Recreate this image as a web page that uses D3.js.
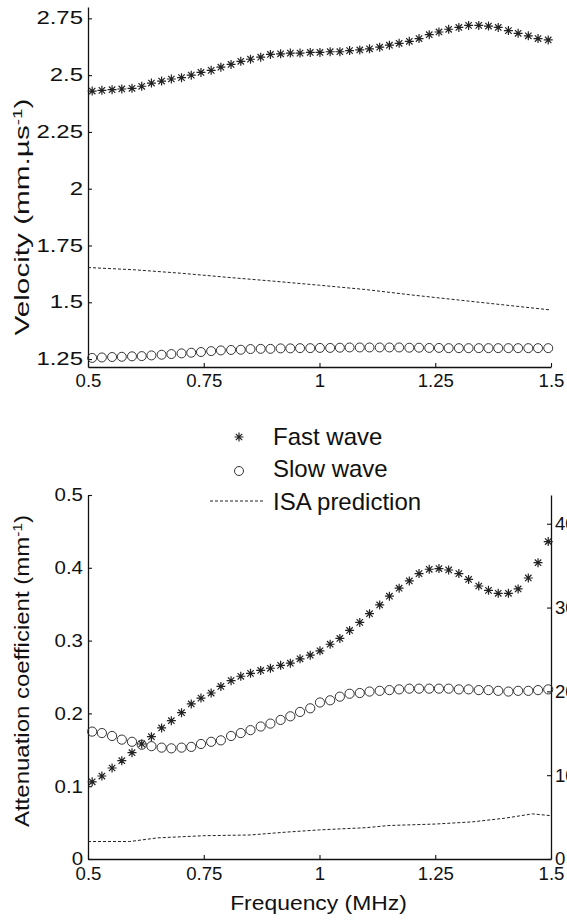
<!DOCTYPE html>
<html>
<head>
<meta charset="utf-8">
<script src="https://cdn.jsdelivr.net/npm/d3@7"></script>
<style>
  html, body { margin: 0; padding: 0; background: #fff; }
  svg { display: block; }
  text { font-family: "Liberation Sans", Arial, sans-serif; fill: #111; }
</style>
</head>
<body>
<svg id="chart" width="567" height="923"></svg>
<script>
// ---------- DATA ----------
const freq = [0.509, 0.530, 0.552, 0.573, 0.595, 0.616, 0.637, 0.659, 0.680, 0.702,
              0.723, 0.744, 0.766, 0.787, 0.809, 0.830, 0.851, 0.873, 0.894, 0.916,
              0.937, 0.958, 0.980, 1.001, 1.023, 1.044, 1.065, 1.087, 1.108, 1.130,
              1.151, 1.172, 1.194, 1.215, 1.237, 1.258, 1.279, 1.301, 1.322, 1.344,
              1.365, 1.386, 1.408, 1.429, 1.451, 1.472, 1.494];

const fastVelocity = [2.430, 2.433, 2.436, 2.439, 2.442, 2.451, 2.465, 2.474, 2.483, 2.489,
                      2.500, 2.512, 2.521, 2.535, 2.547, 2.561, 2.570, 2.579, 2.591, 2.594,
                      2.597, 2.597, 2.600, 2.600, 2.603, 2.603, 2.608, 2.611, 2.616, 2.623,
                      2.632, 2.640, 2.649, 2.661, 2.678, 2.690, 2.702, 2.710, 2.719, 2.719,
                      2.716, 2.710, 2.696, 2.684, 2.673, 2.661, 2.655];

const slowVelocity = [1.255, 1.257, 1.259, 1.260, 1.262, 1.263, 1.266, 1.269, 1.272, 1.275,
                      1.278, 1.281, 1.285, 1.288, 1.290, 1.291, 1.294, 1.295, 1.295, 1.297,
                      1.297, 1.298, 1.298, 1.299, 1.299, 1.300, 1.301, 1.301, 1.301, 1.301,
                      1.301, 1.301, 1.300, 1.300, 1.299, 1.299, 1.298, 1.298, 1.298, 1.298,
                      1.298, 1.298, 1.298, 1.298, 1.298, 1.298, 1.298];

const isaVelFreq = [0.5, 0.6, 0.7, 0.8, 0.9, 1.0, 1.1, 1.2, 1.3, 1.4, 1.5];
const isaVelocity = [1.653, 1.643, 1.628, 1.610, 1.593, 1.575, 1.556, 1.532, 1.510, 1.488, 1.466];

const fastAtten = [0.106, 0.114, 0.125, 0.135, 0.146, 0.158, 0.168, 0.180, 0.190, 0.201,
                   0.213, 0.221, 0.228, 0.237, 0.245, 0.251, 0.255, 0.259, 0.262, 0.266,
                   0.269, 0.275, 0.280, 0.286, 0.295, 0.303, 0.314, 0.325, 0.337, 0.349,
                   0.361, 0.372, 0.382, 0.392, 0.398, 0.399, 0.397, 0.392, 0.384, 0.375,
                   0.369, 0.365, 0.365, 0.371, 0.386, 0.407, 0.436];

const slowAtten = [0.175, 0.173, 0.169, 0.164, 0.161, 0.157, 0.155, 0.153, 0.152, 0.153,
                   0.154, 0.158, 0.161, 0.163, 0.169, 0.173, 0.177, 0.182, 0.186, 0.191,
                   0.196, 0.202, 0.207, 0.215, 0.218, 0.223, 0.227, 0.228, 0.230, 0.231,
                   0.232, 0.233, 0.234, 0.234, 0.234, 0.234, 0.234, 0.233, 0.233, 0.232,
                   0.232, 0.231, 0.230, 0.231, 0.231, 0.232, 0.233];

const isaAttFreq = [0.5, 0.59, 0.65, 0.75, 0.85, 0.93, 1.0, 1.1, 1.15, 1.25, 1.33, 1.4, 1.46, 1.5];
const isaAtten = [0.024, 0.024, 0.029, 0.032, 0.033, 0.037, 0.040, 0.043, 0.046, 0.048, 0.051, 0.056, 0.062, 0.0595];

const freqTicks = [0.5, 0.75, 1, 1.25, 1.5];
const freqTickLabels = ["0.5", "0.75", "1", "1.25", "1.5"];
const velTicks = [1.25, 1.5, 1.75, 2, 2.25, 2.5, 2.75];
const velTickLabels = ["1.25", "1.5", "1.75", "2", "2.25", "2.5", "2.75"];
const attTicks = [0, 0.1, 0.2, 0.3, 0.4, 0.5];
const attTickLabels = ["0", "0.1", "0.2", "0.3", "0.4", "0.5"];
const dbTicks = [0, 10, 20, 30, 40];
const dbTickLabels = ["0", "10", "20", "30", "40"];

const seriesNames = ["Fast wave", "Slow wave", "ISA prediction"];

// ---------- DRAW ----------
const svg = d3.select("#chart");
svg.append("rect").attr("width", 567).attr("height", 923).attr("fill", "#fff");

const X0 = 88, X1 = 551;
const x = d3.scaleLinear().domain([0.5, 1.5]).range([X0, X1]);

const yTop = d3.scaleLinear().domain([1.215, 2.8]).range([367, 7]);
const yBot = d3.scaleLinear().domain([0, 0.5]).range([859, 495]);
const yDb  = d3.scaleLinear().domain([0, 43.43]).range([859, 495]);

const starPath = "M-4.5,0H4.5M0,-4.5V4.5M-3.2,-3.2L3.2,3.2M-3.2,3.2L3.2,-3.2";

function styleAxis(g) {
  g.select(".domain").attr("stroke", "#111").attr("stroke-width", 1.3);
  g.selectAll(".tick line").attr("stroke", "#111").attr("stroke-width", 1.1);
  g.selectAll(".tick text").attr("fill", "#111").attr("font-family", "Liberation Sans, Arial, sans-serif");
}

function xAxis(yPos, pad) {
  const g = svg.append("g").attr("transform", `translate(0,${yPos})`)
    .call(d3.axisBottom(x).tickValues(freqTicks)
      .tickFormat((d, i) => freqTickLabels[i])
      .tickSizeInner(-4).tickSizeOuter(0).tickPadding(pad));
  styleAxis(g);
  g.selectAll(".tick text").attr("font-size", 18.6);
  return g;
}

function yAxisLeft(scale, ticks, labels, fs, sx) {
  const g = svg.append("g").attr("transform", `translate(${X0},0)`)
    .call(d3.axisLeft(scale).tickValues(ticks)
      .tickFormat((d, i) => labels[i])
      .tickSizeInner(-4).tickSizeOuter(0).tickPadding(5));
  styleAxis(g);
  g.selectAll(".tick text").attr("font-size", fs)
    .attr("x", -5 / sx).attr("transform", `scale(${sx},1)`);
  return g;
}

// ----- Top chart: velocity -----
xAxis(367, 7);
yAxisLeft(yTop, velTicks, velTickLabels, 17.5, 1.37);

const isaLineTop = d3.line().x((d, i) => x(isaVelFreq[i])).y(d => yTop(d));
svg.append("path").datum(isaVelocity).attr("d", isaLineTop)
  .attr("fill", "none").attr("stroke", "#222").attr("stroke-width", 1)
  .attr("stroke-dasharray", "3,2");

svg.append("g").selectAll("circle").data(slowVelocity).join("circle")
  .attr("cx", (d, i) => x(freq[i])).attr("cy", d => yTop(d)).attr("r", 4.5)
  .attr("fill", "none").attr("stroke", "#333").attr("stroke-width", 1);

svg.append("g").selectAll("path").data(fastVelocity).join("path")
  .attr("transform", (d, i) => `translate(${x(freq[i])},${yTop(d)})`)
  .attr("d", starPath).attr("fill", "none").attr("stroke", "#222").attr("stroke-width", 1.2);

// Top y label
const velLabel = svg.append("text")
  .attr("transform", "translate(29,217) rotate(-90) scale(1.45,1)")
  .attr("text-anchor", "middle").attr("font-size", 20.5);
velLabel.append("tspan").text("Velocity (mm.\u00b5s");
velLabel.append("tspan").attr("baseline-shift", "super").attr("font-size", 13).text("-1");
velLabel.append("tspan").text(")");

// ----- Bottom chart: attenuation -----
xAxis(859, 8);
yAxisLeft(yBot, attTicks, attTickLabels, 18.6, 1.1);

const gR = svg.append("g").attr("transform", `translate(${X1},0)`)
  .call(d3.axisRight(yDb).tickValues(dbTicks)
    .tickFormat((d, i) => dbTickLabels[i])
    .tickSizeInner(-4).tickSizeOuter(0).tickPadding(4));
styleAxis(gR);
gR.selectAll(".tick text").attr("font-size", 18.6);

const isaLineBot = d3.line().x((d, i) => x(isaAttFreq[i])).y(d => yBot(d));
svg.append("path").datum(isaAtten).attr("d", isaLineBot)
  .attr("fill", "none").attr("stroke", "#222").attr("stroke-width", 1)
  .attr("stroke-dasharray", "3,2");

svg.append("g").selectAll("circle").data(slowAtten).join("circle")
  .attr("cx", (d, i) => x(freq[i])).attr("cy", d => yBot(d)).attr("r", 4.6)
  .attr("fill", "none").attr("stroke", "#333").attr("stroke-width", 1);

svg.append("g").selectAll("path").data(fastAtten).join("path")
  .attr("transform", (d, i) => `translate(${x(freq[i])},${yBot(d)})`)
  .attr("d", starPath).attr("fill", "none").attr("stroke", "#222").attr("stroke-width", 1.2);

const attLabel = svg.append("text")
  .attr("transform", "translate(29,671) rotate(-90) scale(1.2,1)")
  .attr("text-anchor", "middle").attr("font-size", 20);
attLabel.append("tspan").text("Attenuation coefficient (mm");
attLabel.append("tspan").attr("baseline-shift", "super").attr("font-size", 13).text("-1");
attLabel.append("tspan").text(")");

svg.append("text").attr("transform", "translate(318.5,910) scale(1.09,1)")
  .attr("text-anchor", "middle").attr("font-size", 21).text("Frequency (MHz)");

// ----- Legend -----
const legend = svg.append("g");
legend.append("path").attr("transform", "translate(239,437)").attr("d", starPath)
  .attr("fill", "none").attr("stroke", "#222").attr("stroke-width", 1.2);
legend.append("circle").attr("cx", 239).attr("cy", 471).attr("r", 4.5)
  .attr("fill", "none").attr("stroke", "#333").attr("stroke-width", 1);
legend.append("line").attr("x1", 210).attr("x2", 263).attr("y1", 501).attr("y2", 501)
  .attr("stroke", "#222").attr("stroke-width", 1).attr("stroke-dasharray", "3,2");
const legY = [445, 477, 510];
legend.selectAll("text.leg").data(seriesNames).join("text").attr("class", "leg")
  .attr("x", 273).attr("y", (d, i) => legY[i]).attr("font-size", 24).text(d => d);
</script>
</body>
</html>
